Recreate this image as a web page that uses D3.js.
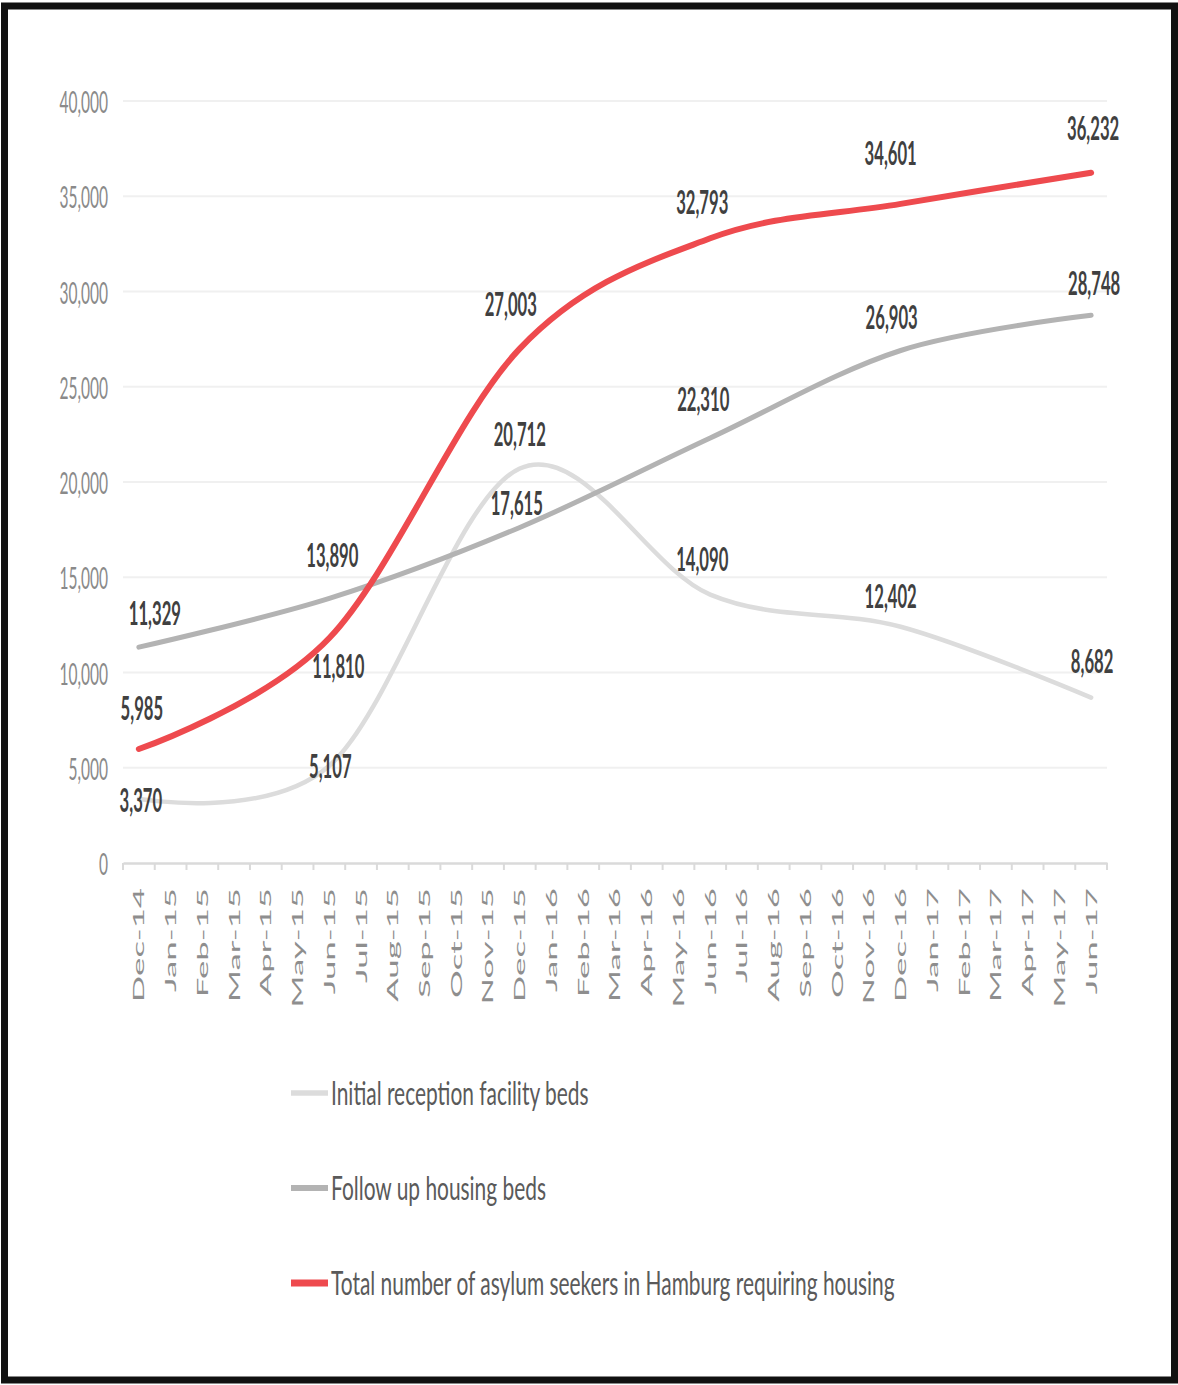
<!DOCTYPE html>
<html>
<head>
<meta charset="utf-8">
<script src="https://cdn.jsdelivr.net/npm/d3@7"></script>
<style>
  html, body { margin: 0; padding: 0; background: #fff; }
  svg { display: block; }
</style>
</head>
<body>
<div id="chart"></div>
<script>
// ---------------- data ----------------
const months = ["Dec-14","Jan-15","Feb-15","Mar-15","Apr-15","May-15","Jun-15","Jul-15","Aug-15","Sep-15","Oct-15","Nov-15","Dec-15","Jan-16","Feb-16","Mar-16","Apr-16","May-16","Jun-16","Jul-16","Aug-16","Sep-16","Oct-16","Nov-16","Dec-16","Jan-17","Feb-17","Mar-17","Apr-17","May-17","Jun-17"];
const dataMonths = ["Dec-14","Jun-15","Dec-15","Jun-16","Dec-16","Jun-17"];
const initialReceptionBeds = [3370, 5107, 20712, 14090, 12402, 8682];
const followUpHousingBeds = [11329, 13890, 17615, 22310, 26903, 28748];
const totalAsylumSeekers = [5985, 11810, 27003, 32793, 34601, 36232];
const yTicks = [0, 5000, 10000, 15000, 20000, 25000, 30000, 35000, 40000];
const seriesNames = ["Initial reception facility beds", "Follow up housing beds", "Total number of asylum seekers in Hamburg requiring housing"];

// ---------------- layout ----------------
const W = 1178, H = 1385;
const plot = { left: 123, right: 1107, top: 101, bottom: 863 };
const seriesStyle = [
  { color: "#dcdcdc", width: 4.5 },
  { color: "#b3b3b3", width: 5 },
  { color: "#ee4a4e", width: 6 }
];
// label offsets (dx, dy) relative to the data point, per series
const labelOffsets = [
  [[2, 1], [1, 0], [0, -35], [-8, -36], [-10, -31], [1, -37]],
  [[16, -35], [3, -44], [-3, -25], [-7, -40], [-9, -34], [3, -33]],
  [[3, -42], [9, 27], [-9, -45], [-8, -37], [-10, -51], [2, -45]]
];

const svg = d3.select("#chart").append("svg").attr("width", W).attr("height", H);
svg.append("rect").attr("width", W).attr("height", H).attr("fill", "#fff");

const x = d3.scaleBand().domain(months).range([plot.left, plot.right]).paddingInner(0).paddingOuter(0);
const y = d3.scaleLinear().domain([0, 40000]).range([plot.bottom, plot.top]);
const cx = m => x(m) + x.bandwidth() / 2;

function txt(g, px, py, s, o) {
  return g.append("text")
    .attr("transform", `translate(${px},${py}) ${o.rot ? "rotate(" + o.rot + ")" : ""} scale(${o.sx || 1},${o.sy || 1})`)
    .attr("text-anchor", o.anchor || "middle")
    .attr("dominant-baseline", "central")
    .attr("font-family", "Lato, 'Open Sans', sans-serif")
    .attr("font-size", o.size)
    .attr("font-weight", o.weight || "normal")
    .attr("fill", o.fill)
    .text(s);
}

// gridlines
const grid = svg.append("g");
yTicks.filter(v => v > 0).forEach(v => {
  grid.append("line").attr("x1", plot.left).attr("x2", plot.right)
    .attr("y1", y(v)).attr("y2", y(v)).attr("stroke", "#f0f0f0").attr("stroke-width", 2);
});

// y axis labels
const yAxis = svg.append("g").attr("transform", `translate(${plot.left},0)`)
  .call(d3.axisLeft(y).tickValues(yTicks).tickSize(0).tickFormat(""));
yAxis.select(".domain").remove();
yTicks.forEach(v => {
  txt(svg, 108, y(v), d3.format(",")(v), { size: 16, sx: 0.97, sy: 1.95, anchor: "end", fill: "#8a8a8a" });
});

// x axis
const xAxis = svg.append("g").attr("transform", `translate(0,${plot.bottom})`)
  .call(d3.axisBottom(x).tickSize(0).tickFormat(""));
xAxis.select(".domain").attr("stroke", "#dadada").attr("stroke-width", 2.5);
months.concat(["_end"]).forEach((m, i) => {
  const xx = i < months.length ? x(m) : plot.right;
  svg.append("line").attr("x1", xx).attr("x2", xx).attr("y1", plot.bottom).attr("y2", plot.bottom + 7)
    .attr("stroke", "#dadada").attr("stroke-width", 2);
});
months.forEach(m => {
  txt(svg, cx(m), 888, m, { size: 14.5, rot: -90, sx: 2.4, sy: 1, anchor: "end", fill: "#8e8e8e" });
});

// lines
const line = d3.line()
  .x((d, i) => cx(dataMonths[i]))
  .y(d => y(d))
  .curve(d3.curveCardinal.tension(0));
const allSeries = [initialReceptionBeds, followUpHousingBeds, totalAsylumSeekers];
allSeries.forEach((s, k) => {
  svg.append("path").datum(s).attr("d", line)
    .attr("fill", "none").attr("stroke", seriesStyle[k].color)
    .attr("stroke-width", seriesStyle[k].width).attr("stroke-linecap", "round");
});

// data labels
allSeries.forEach((s, k) => {
  s.forEach((v, i) => {
    const [dx, dy] = labelOffsets[k][i];
    txt(svg, cx(dataMonths[i]) + dx, y(v) + dy, d3.format(",")(v),
      { size: 17, sx: 0.98, sy: 1.9, weight: "bold", fill: "#404040" });
  });
});

// legend
const legendY = [1093, 1188, 1283];
seriesNames.forEach((name, k) => {
  svg.append("line").attr("x1", 291).attr("x2", 328).attr("y1", legendY[k]).attr("y2", legendY[k])
    .attr("stroke", seriesStyle[k].color).attr("stroke-width", seriesStyle[k].width + 1);
  txt(svg, 331, legendY[k] - 1, name, { size: 17, sx: 1.23, sy: 1.95, anchor: "start", fill: "#5a5a5a" });
});

// frame
svg.append("rect").attr("x", 4.5).attr("y", 6).attr("width", W - 8).attr("height", H - 11)
  .attr("fill", "none").attr("stroke", "#111").attr("stroke-width", 7);
</script>
</body>
</html>
